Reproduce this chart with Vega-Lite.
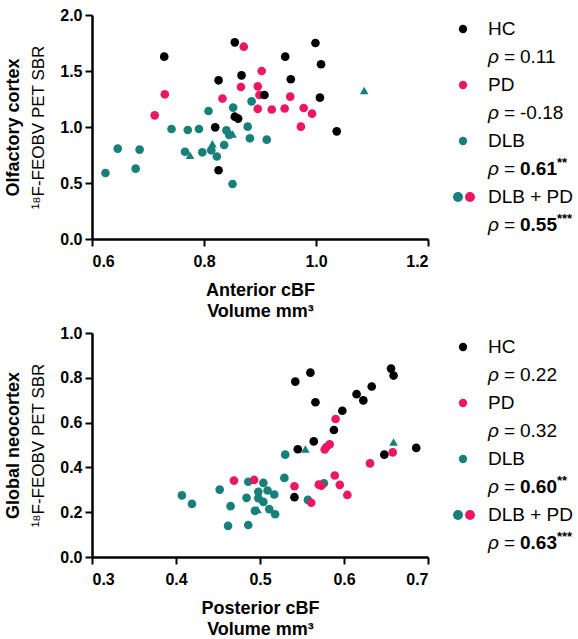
{
  "$schema": "https://vega.github.io/schema/vega-lite/v6.json",
  "background": "white",
  "padding": {"top": 7, "left": 4, "right": 0, "bottom": 0},
  "bounds": "flush",
  "columns": 2,
  "spacing": {"row": 94, "column": 20},
  "config": {
    "view": {"stroke": null},
    "font": "Liberation Sans",
    "axis": {
      "grid": false,
      "domainColor": "#000000",
      "domainWidth": 2.5,
      "tickColor": "#000000",
      "tickWidth": 2,
      "tickSize": 7,
      "labelFont": "Liberation Sans",
      "labelFontWeight": "bold",
      "labelFontSize": 16,
      "labelColor": "#000000",
      "titleFont": "Liberation Sans",
      "titleFontSize": 18,
      "titleFontWeight": "bold",
      "titleColor": "#000000"
    },
    "text": {"font": "Liberation Sans", "color": "#000000"}
  },
  "datasets": {
    "olf": [
      {"group": "DLB", "subset": "A", "cbf": 0.624, "sbr": 0.589},
      {"group": "DLB", "subset": "A", "cbf": 0.646, "sbr": 0.807},
      {"group": "DLB", "subset": "A", "cbf": 0.685, "sbr": 0.798},
      {"group": "DLB", "subset": "A", "cbf": 0.678, "sbr": 0.628},
      {"group": "DLB", "subset": "A", "cbf": 0.742, "sbr": 0.982},
      {"group": "DLB", "subset": "A", "cbf": 0.771, "sbr": 0.973},
      {"group": "DLB", "subset": "A", "cbf": 0.791, "sbr": 0.982},
      {"group": "DLB", "subset": "A", "cbf": 0.808, "sbr": 1.143},
      {"group": "DLB", "subset": "A", "cbf": 0.852, "sbr": 1.173},
      {"group": "DLB", "subset": "A", "cbf": 0.885, "sbr": 1.229},
      {"group": "DLB", "subset": "A", "cbf": 0.878, "sbr": 1.003},
      {"group": "DLB", "subset": "A", "cbf": 0.840, "sbr": 0.970},
      {"group": "DLB", "subset": "A", "cbf": 0.845, "sbr": 0.929},
      {"group": "DLB", "subset": "A", "cbf": 0.882, "sbr": 0.899},
      {"group": "DLB", "subset": "A", "cbf": 0.912, "sbr": 0.887},
      {"group": "DLB", "subset": "A", "cbf": 0.836, "sbr": 0.839},
      {"group": "DLB", "subset": "A", "cbf": 0.766, "sbr": 0.779},
      {"group": "DLB", "subset": "A", "cbf": 0.797, "sbr": 0.774},
      {"group": "DLB", "subset": "A", "cbf": 0.813, "sbr": 0.792},
      {"group": "DLB", "subset": "A", "cbf": 0.823, "sbr": 0.737},
      {"group": "DLB", "subset": "A", "cbf": 0.851, "sbr": 0.491},
      {"group": "DLB", "subset": "B", "cbf": 1.086, "sbr": 1.327},
      {"group": "DLB", "subset": "B", "cbf": 0.775, "sbr": 0.748},
      {"group": "DLB", "subset": "B", "cbf": 0.815, "sbr": 0.851},
      {"group": "DLB", "subset": "B", "cbf": 0.851, "sbr": 0.938},
      {"group": "PD", "subset": "A", "cbf": 0.871, "sbr": 1.717},
      {"group": "PD", "subset": "A", "cbf": 0.903, "sbr": 1.500},
      {"group": "PD", "subset": "A", "cbf": 0.730, "sbr": 1.292},
      {"group": "PD", "subset": "A", "cbf": 0.866, "sbr": 1.357},
      {"group": "PD", "subset": "A", "cbf": 0.896, "sbr": 1.363},
      {"group": "PD", "subset": "A", "cbf": 0.899, "sbr": 1.286},
      {"group": "PD", "subset": "A", "cbf": 0.833, "sbr": 1.254},
      {"group": "PD", "subset": "A", "cbf": 0.954, "sbr": 1.271},
      {"group": "PD", "subset": "A", "cbf": 0.712, "sbr": 1.104},
      {"group": "PD", "subset": "A", "cbf": 0.896, "sbr": 1.162},
      {"group": "PD", "subset": "A", "cbf": 0.921, "sbr": 1.156},
      {"group": "PD", "subset": "A", "cbf": 0.944, "sbr": 1.165},
      {"group": "PD", "subset": "A", "cbf": 0.978, "sbr": 1.170},
      {"group": "PD", "subset": "A", "cbf": 0.993, "sbr": 1.119},
      {"group": "PD", "subset": "A", "cbf": 0.973, "sbr": 1.003},
      {"group": "HC", "subset": "A", "cbf": 0.729, "sbr": 1.628},
      {"group": "HC", "subset": "A", "cbf": 0.855, "sbr": 1.756},
      {"group": "HC", "subset": "A", "cbf": 0.999, "sbr": 1.750},
      {"group": "HC", "subset": "A", "cbf": 0.945, "sbr": 1.628},
      {"group": "HC", "subset": "A", "cbf": 1.009, "sbr": 1.560},
      {"group": "HC", "subset": "A", "cbf": 0.867, "sbr": 1.461},
      {"group": "HC", "subset": "A", "cbf": 0.826, "sbr": 1.417},
      {"group": "HC", "subset": "A", "cbf": 0.955, "sbr": 1.426},
      {"group": "HC", "subset": "A", "cbf": 0.908, "sbr": 1.286},
      {"group": "HC", "subset": "A", "cbf": 1.007, "sbr": 1.262},
      {"group": "HC", "subset": "A", "cbf": 0.855, "sbr": 1.092},
      {"group": "HC", "subset": "A", "cbf": 0.861, "sbr": 1.075},
      {"group": "HC", "subset": "A", "cbf": 0.820, "sbr": 0.997},
      {"group": "HC", "subset": "A", "cbf": 1.037, "sbr": 0.961},
      {"group": "HC", "subset": "A", "cbf": 0.826, "sbr": 0.614}
    ],
    "neo": [
      {"group": "DLB", "subset": "A", "cbf": 0.530, "sbr": 0.457},
      {"group": "DLB", "subset": "A", "cbf": 0.529, "sbr": 0.353},
      {"group": "DLB", "subset": "A", "cbf": 0.576, "sbr": 0.329},
      {"group": "DLB", "subset": "A", "cbf": 0.407, "sbr": 0.275},
      {"group": "DLB", "subset": "A", "cbf": 0.419, "sbr": 0.237},
      {"group": "DLB", "subset": "A", "cbf": 0.452, "sbr": 0.301},
      {"group": "DLB", "subset": "A", "cbf": 0.465, "sbr": 0.227},
      {"group": "DLB", "subset": "A", "cbf": 0.462, "sbr": 0.139},
      {"group": "DLB", "subset": "A", "cbf": 0.486, "sbr": 0.143},
      {"group": "DLB", "subset": "A", "cbf": 0.486, "sbr": 0.336},
      {"group": "DLB", "subset": "A", "cbf": 0.484, "sbr": 0.264},
      {"group": "DLB", "subset": "A", "cbf": 0.504, "sbr": 0.331},
      {"group": "DLB", "subset": "A", "cbf": 0.498, "sbr": 0.291},
      {"group": "DLB", "subset": "A", "cbf": 0.498, "sbr": 0.263},
      {"group": "DLB", "subset": "A", "cbf": 0.509, "sbr": 0.297},
      {"group": "DLB", "subset": "A", "cbf": 0.517, "sbr": 0.279},
      {"group": "DLB", "subset": "A", "cbf": 0.504, "sbr": 0.246},
      {"group": "DLB", "subset": "A", "cbf": 0.494, "sbr": 0.206},
      {"group": "DLB", "subset": "A", "cbf": 0.511, "sbr": 0.214},
      {"group": "DLB", "subset": "A", "cbf": 0.518, "sbr": 0.191},
      {"group": "DLB", "subset": "A", "cbf": 0.557, "sbr": 0.255},
      {"group": "DLB", "subset": "B", "cbf": 0.554, "sbr": 0.482},
      {"group": "DLB", "subset": "B", "cbf": 0.659, "sbr": 0.513},
      {"group": "DLB", "subset": "B", "cbf": 0.497, "sbr": 0.212},
      {"group": "PD", "subset": "A", "cbf": 0.590, "sbr": 0.616},
      {"group": "PD", "subset": "A", "cbf": 0.583, "sbr": 0.503},
      {"group": "PD", "subset": "A", "cbf": 0.579, "sbr": 0.491},
      {"group": "PD", "subset": "A", "cbf": 0.577, "sbr": 0.480},
      {"group": "PD", "subset": "A", "cbf": 0.658, "sbr": 0.467},
      {"group": "PD", "subset": "A", "cbf": 0.631, "sbr": 0.418},
      {"group": "PD", "subset": "A", "cbf": 0.589, "sbr": 0.364},
      {"group": "PD", "subset": "A", "cbf": 0.469, "sbr": 0.341},
      {"group": "PD", "subset": "A", "cbf": 0.493, "sbr": 0.344},
      {"group": "PD", "subset": "A", "cbf": 0.595, "sbr": 0.322},
      {"group": "PD", "subset": "A", "cbf": 0.570, "sbr": 0.323},
      {"group": "PD", "subset": "A", "cbf": 0.573, "sbr": 0.318},
      {"group": "PD", "subset": "A", "cbf": 0.541, "sbr": 0.316},
      {"group": "PD", "subset": "A", "cbf": 0.604, "sbr": 0.277},
      {"group": "PD", "subset": "A", "cbf": 0.561, "sbr": 0.242},
      {"group": "HC", "subset": "A", "cbf": 0.656, "sbr": 0.841},
      {"group": "HC", "subset": "A", "cbf": 0.659, "sbr": 0.810},
      {"group": "HC", "subset": "A", "cbf": 0.560, "sbr": 0.823},
      {"group": "HC", "subset": "A", "cbf": 0.542, "sbr": 0.783},
      {"group": "HC", "subset": "A", "cbf": 0.633, "sbr": 0.761},
      {"group": "HC", "subset": "A", "cbf": 0.615, "sbr": 0.727},
      {"group": "HC", "subset": "A", "cbf": 0.623, "sbr": 0.699},
      {"group": "HC", "subset": "A", "cbf": 0.566, "sbr": 0.691},
      {"group": "HC", "subset": "A", "cbf": 0.598, "sbr": 0.653},
      {"group": "HC", "subset": "A", "cbf": 0.588, "sbr": 0.567},
      {"group": "HC", "subset": "A", "cbf": 0.564, "sbr": 0.516},
      {"group": "HC", "subset": "A", "cbf": 0.545, "sbr": 0.481},
      {"group": "HC", "subset": "A", "cbf": 0.686, "sbr": 0.487},
      {"group": "HC", "subset": "A", "cbf": 0.648, "sbr": 0.457},
      {"group": "HC", "subset": "A", "cbf": 0.541, "sbr": 0.267}
    ],
    "legend_olf": [
      {"entry": "HC", "rho": "0.11", "sig": ""},
      {"entry": "PD", "rho": "-0.18", "sig": ""},
      {"entry": "DLB", "rho": "0.61", "sig": "**"},
      {"entry": "DLB + PD", "rho": "0.55", "sig": "***"}
    ],
    "legend_neo": [
      {"entry": "HC", "rho": "0.22", "sig": ""},
      {"entry": "PD", "rho": "0.32", "sig": ""},
      {"entry": "DLB", "rho": "0.60", "sig": "**"},
      {"entry": "DLB + PD", "rho": "0.63", "sig": "***"}
    ],
    "legend_symbols": [
      {"entry": "HC", "series": "HC"},
      {"entry": "PD", "series": "PD"},
      {"entry": "DLB", "series": "DLB"},
      {"entry": "DLB + PD", "series": "DLB"},
      {"entry": "DLB + PD", "series": "PD"}
    ]
  },
  "concat": [
    {
      "width": 336,
      "height": 224,
      "data": {"name": "olf"},
      "layer": [
        {
          "mark": {"type": "point", "filled": true, "opacity": 1, "size": 75},
          "encoding": {
            "x": {"field": "cbf", "type": "quantitative", "scale": {"domain": [0.6, 1.2]},
                  "axis": {"values": [0.6, 0.8, 1.0, 1.2], "format": ".1f", "labelPadding": 7, "titlePadding": 12, "title": ["Anterior cBF", "Volume mm³"], "titleLineHeight": 21}},
            "y": {"field": "sbr", "type": "quantitative", "scale": {"domain": [0, 2]},
                  "axis": {"orient": "left", "values": [0, 0.5, 1, 1.5, 2], "format": ".1f", "labelPadding": 3, "title": "¹⁸F-FEOBV PET SBR", "titleFontWeight": "normal", "titleFontSize": 17, "titlePadding": 12}},
            "color": {"field": "group", "type": "nominal", "scale": {"domain": ["HC", "PD", "DLB"], "range": ["#000000", "#EC1763", "#17807B"]}, "legend": null},
            "shape": {"field": "subset", "type": "nominal", "scale": {"domain": ["A", "B"], "range": ["circle", "triangle-up"]}, "legend": null}
          }
        },
        {
          "mark": {"type": "point", "opacity": 0},
          "encoding": {
            "y": {"field": "sbr", "type": "quantitative",
                  "axis": {"orient": "left", "labels": false, "ticks": false, "domain": false, "title": "Olfactory cortex", "titleFontSize": 18, "titlePadding": 70}}
          }
        }
      ],
      "resolve": {"axis": {"y": "independent"}}
    },
    {
      "width": 120,
      "height": 224,
      "layer": [
        {
          "data": {"name": "legend_symbols"},
          "transform": [{"filter": "datum.entry != 'DLB + PD'"}],
          "mark": {"type": "circle", "opacity": 1, "size": 70, "yOffset": -14},
          "encoding": {
            "x": {"datum": 15, "type": "quantitative", "scale": {"domain": [0, 120]}, "axis": null},
            "y": {"field": "entry", "type": "nominal", "scale": {"domain": ["HC", "PD", "DLB", "DLB + PD"]}, "axis": null},
            "color": {"field": "series", "type": "nominal", "legend": null}
          }
        },
        {
          "data": {"name": "legend_symbols"},
          "transform": [{"filter": "datum.entry == 'DLB + PD' && datum.series == 'DLB'"}],
          "mark": {"type": "circle", "opacity": 1, "size": 100, "yOffset": -14, "xOffset": -5},
          "encoding": {
            "x": {"datum": 15, "type": "quantitative"},
            "y": {"field": "entry", "type": "nominal"},
            "color": {"field": "series", "type": "nominal", "legend": null}
          }
        },
        {
          "data": {"name": "legend_symbols"},
          "transform": [{"filter": "datum.entry == 'DLB + PD' && datum.series == 'PD'"}],
          "mark": {"type": "circle", "opacity": 1, "size": 100, "yOffset": -14, "xOffset": 7},
          "encoding": {
            "x": {"datum": 15, "type": "quantitative"},
            "y": {"field": "entry", "type": "nominal"},
            "color": {"field": "series", "type": "nominal", "legend": null}
          }
        },
        {
          "data": {"name": "legend_olf"},
          "mark": {"type": "text", "align": "left", "baseline": "middle", "fontSize": 19, "dy": -14},
          "encoding": {
            "x": {"datum": 40, "type": "quantitative"},
            "y": {"field": "entry", "type": "nominal"},
            "text": {"field": "entry"}
          }
        },
        {
          "data": {"name": "legend_olf"},
          "mark": {"type": "text", "align": "left", "baseline": "middle", "fontSize": 19, "fontStyle": "italic", "dy": 14, "text": "ρ"},
          "encoding": {
            "x": {"datum": 40, "type": "quantitative"},
            "y": {"field": "entry", "type": "nominal"}
          }
        },
        {
          "data": {"name": "legend_olf"},
          "mark": {"type": "text", "align": "left", "baseline": "middle", "fontSize": 19, "dy": 14, "dx": 16, "text": "="},
          "encoding": {
            "x": {"datum": 40, "type": "quantitative"},
            "y": {"field": "entry", "type": "nominal"}
          }
        },
        {
          "data": {"name": "legend_olf"},
          "transform": [{"filter": "datum.sig == ''"}],
          "mark": {"type": "text", "align": "left", "baseline": "middle", "fontSize": 19, "dy": 14, "dx": 32},
          "encoding": {
            "x": {"datum": 40, "type": "quantitative"},
            "y": {"field": "entry", "type": "nominal"},
            "text": {"field": "rho"}
          }
        },
        {
          "data": {"name": "legend_olf"},
          "transform": [{"filter": "datum.sig != ''"}],
          "mark": {"type": "text", "align": "left", "baseline": "middle", "fontSize": 19, "fontWeight": "bold", "dy": 14, "dx": 32},
          "encoding": {
            "x": {"datum": 40, "type": "quantitative"},
            "y": {"field": "entry", "type": "nominal"},
            "text": {"field": "rho"}
          }
        },
        {
          "data": {"name": "legend_olf"},
          "transform": [{"filter": "datum.sig != ''"}],
          "mark": {"type": "text", "align": "left", "baseline": "middle", "fontSize": 13, "fontWeight": "bold", "dy": 8, "dx": 69},
          "encoding": {
            "x": {"datum": 40, "type": "quantitative"},
            "y": {"field": "entry", "type": "nominal"},
            "text": {"field": "sig"}
          }
        }
      ]
    },
    {
      "width": 336,
      "height": 224,
      "data": {"name": "neo"},
      "layer": [
        {
          "mark": {"type": "point", "filled": true, "opacity": 1, "size": 75},
          "encoding": {
            "x": {"field": "cbf", "type": "quantitative", "scale": {"domain": [0.3, 0.7]},
                  "axis": {"values": [0.3, 0.4, 0.5, 0.6, 0.7], "format": ".1f", "labelPadding": 7, "titlePadding": 12, "title": ["Posterior cBF", "Volume mm³"], "titleLineHeight": 21}},
            "y": {"field": "sbr", "type": "quantitative", "scale": {"domain": [0, 1]},
                  "axis": {"orient": "left", "values": [0, 0.2, 0.4, 0.6, 0.8, 1.0], "format": ".1f", "labelPadding": 3, "title": "¹⁸F-FEOBV PET SBR", "titleFontWeight": "normal", "titleFontSize": 17, "titlePadding": 12}},
            "color": {"field": "group", "type": "nominal", "scale": {"domain": ["HC", "PD", "DLB"], "range": ["#000000", "#EC1763", "#17807B"]}, "legend": null},
            "shape": {"field": "subset", "type": "nominal", "scale": {"domain": ["A", "B"], "range": ["circle", "triangle-up"]}, "legend": null}
          }
        },
        {
          "mark": {"type": "point", "opacity": 0},
          "encoding": {
            "y": {"field": "sbr", "type": "quantitative",
                  "axis": {"orient": "left", "labels": false, "ticks": false, "domain": false, "title": "Global neocortex", "titleFontSize": 18, "titlePadding": 70}}
          }
        }
      ],
      "resolve": {"axis": {"y": "independent"}}
    },
    {
      "width": 120,
      "height": 224,
      "layer": [
        {
          "data": {"name": "legend_symbols"},
          "transform": [{"filter": "datum.entry != 'DLB + PD'"}],
          "mark": {"type": "circle", "opacity": 1, "size": 70, "yOffset": -14},
          "encoding": {
            "x": {"datum": 15, "type": "quantitative", "scale": {"domain": [0, 120]}, "axis": null},
            "y": {"field": "entry", "type": "nominal", "scale": {"domain": ["HC", "PD", "DLB", "DLB + PD"]}, "axis": null},
            "color": {"field": "series", "type": "nominal", "legend": null}
          }
        },
        {
          "data": {"name": "legend_symbols"},
          "transform": [{"filter": "datum.entry == 'DLB + PD' && datum.series == 'DLB'"}],
          "mark": {"type": "circle", "opacity": 1, "size": 100, "yOffset": -14, "xOffset": -5},
          "encoding": {
            "x": {"datum": 15, "type": "quantitative"},
            "y": {"field": "entry", "type": "nominal"},
            "color": {"field": "series", "type": "nominal", "legend": null}
          }
        },
        {
          "data": {"name": "legend_symbols"},
          "transform": [{"filter": "datum.entry == 'DLB + PD' && datum.series == 'PD'"}],
          "mark": {"type": "circle", "opacity": 1, "size": 100, "yOffset": -14, "xOffset": 7},
          "encoding": {
            "x": {"datum": 15, "type": "quantitative"},
            "y": {"field": "entry", "type": "nominal"},
            "color": {"field": "series", "type": "nominal", "legend": null}
          }
        },
        {
          "data": {"name": "legend_neo"},
          "mark": {"type": "text", "align": "left", "baseline": "middle", "fontSize": 19, "dy": -14},
          "encoding": {
            "x": {"datum": 40, "type": "quantitative"},
            "y": {"field": "entry", "type": "nominal"},
            "text": {"field": "entry"}
          }
        },
        {
          "data": {"name": "legend_neo"},
          "mark": {"type": "text", "align": "left", "baseline": "middle", "fontSize": 19, "fontStyle": "italic", "dy": 14, "text": "ρ"},
          "encoding": {
            "x": {"datum": 40, "type": "quantitative"},
            "y": {"field": "entry", "type": "nominal"}
          }
        },
        {
          "data": {"name": "legend_neo"},
          "mark": {"type": "text", "align": "left", "baseline": "middle", "fontSize": 19, "dy": 14, "dx": 16, "text": "="},
          "encoding": {
            "x": {"datum": 40, "type": "quantitative"},
            "y": {"field": "entry", "type": "nominal"}
          }
        },
        {
          "data": {"name": "legend_neo"},
          "transform": [{"filter": "datum.sig == ''"}],
          "mark": {"type": "text", "align": "left", "baseline": "middle", "fontSize": 19, "dy": 14, "dx": 32},
          "encoding": {
            "x": {"datum": 40, "type": "quantitative"},
            "y": {"field": "entry", "type": "nominal"},
            "text": {"field": "rho"}
          }
        },
        {
          "data": {"name": "legend_neo"},
          "transform": [{"filter": "datum.sig != ''"}],
          "mark": {"type": "text", "align": "left", "baseline": "middle", "fontSize": 19, "fontWeight": "bold", "dy": 14, "dx": 32},
          "encoding": {
            "x": {"datum": 40, "type": "quantitative"},
            "y": {"field": "entry", "type": "nominal"},
            "text": {"field": "rho"}
          }
        },
        {
          "data": {"name": "legend_neo"},
          "transform": [{"filter": "datum.sig != ''"}],
          "mark": {"type": "text", "align": "left", "baseline": "middle", "fontSize": 13, "fontWeight": "bold", "dy": 8, "dx": 69},
          "encoding": {
            "x": {"datum": 40, "type": "quantitative"},
            "y": {"field": "entry", "type": "nominal"},
            "text": {"field": "sig"}
          }
        }
      ]
    }
  ]
}
